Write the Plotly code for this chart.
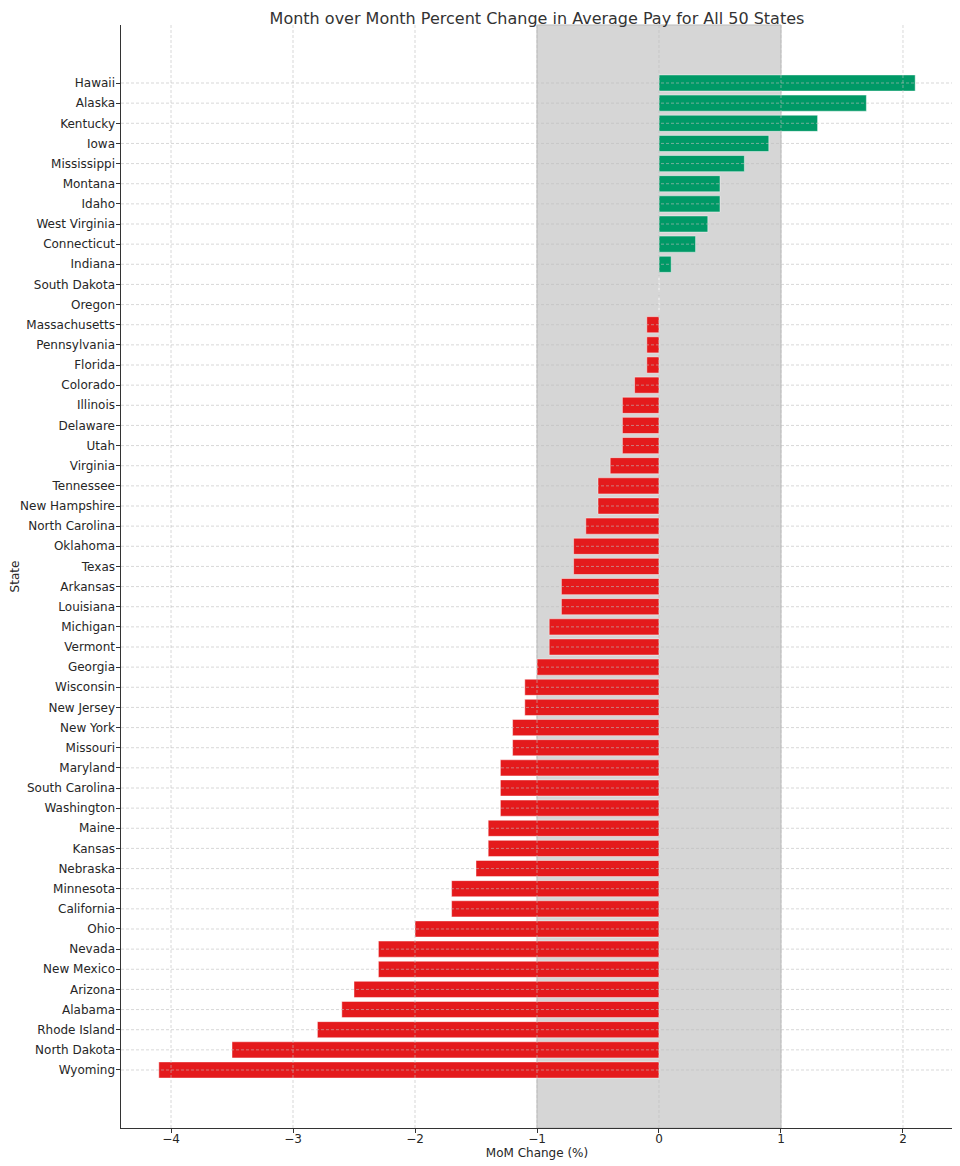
import plotly.graph_objects as go

states = ["Hawaii", "Alaska", "Kentucky", "Iowa", "Mississippi", "Montana", "Idaho",
          "West Virginia", "Connecticut", "Indiana", "South Dakota", "Oregon",
          "Massachusetts", "Pennsylvania", "Florida", "Colorado", "Illinois", "Delaware",
          "Utah", "Virginia", "Tennessee", "New Hampshire", "North Carolina", "Oklahoma",
          "Texas", "Arkansas", "Louisiana", "Michigan", "Vermont", "Georgia", "Wisconsin",
          "New Jersey", "New York", "Missouri", "Maryland", "South Carolina", "Washington",
          "Maine", "Kansas", "Nebraska", "Minnesota", "California", "Ohio", "Nevada",
          "New Mexico", "Arizona", "Alabama", "Rhode Island", "North Dakota", "Wyoming"]
mom_change = [2.1, 1.7, 1.3, 0.9, 0.7, 0.5, 0.5, 0.4, 0.3, 0.1, 0.0, 0.0,
              -0.1, -0.1, -0.1, -0.2, -0.3, -0.3, -0.3, -0.4, -0.5, -0.5, -0.6, -0.7,
              -0.7, -0.8, -0.8, -0.9, -0.9, -1.0, -1.1, -1.1, -1.2, -1.2, -1.3, -1.3,
              -1.3, -1.4, -1.4, -1.5, -1.7, -1.7, -2.0, -2.3, -2.3, -2.5, -2.6, -2.8,
              -3.5, -4.1]
x_ticks = [-4, -3, -2, -1, 0, 1, 2]
x_tick_labels = ["\u22124", "\u22123", "\u22122", "\u22121", "0", "1", "2"]
band = [-1, 1]

GREEN = "#009966"
RED = "#e41a1c"

# bottom-to-top order for plotly categorical axis
ys = states[::-1]
xs = mom_change[::-1]
colors = [GREEN if v > 0 else RED for v in xs]

fig = go.Figure()
fig.add_trace(go.Bar(
    x=xs, y=ys, orientation="h", width=0.8,
    marker=dict(color=colors, line=dict(color="rgba(255,255,255,0.45)", width=1)),
    hoverinfo="x+y", showlegend=False,
))

shapes = [dict(type="rect", xref="x", yref="paper", x0=band[0], x1=band[1], y0=0, y1=1,
               fillcolor="#d6d6d6", line=dict(color="#bbbbbb", width=1), layer="below")]
grid_line = dict(color="rgba(190,190,190,0.75)", width=0.8, dash="3px,2px")
for t in x_ticks:
    shapes.append(dict(type="line", xref="x", yref="paper", x0=t, x1=t, y0=0, y1=1,
                       line=grid_line, layer="above"))
for s in ys:
    shapes.append(dict(type="line", xref="paper", yref="y", x0=0, x1=1, y0=s, y1=s,
                       line=grid_line, layer="above"))

# page body has an 8px margin, so the figure is 8px smaller and margins shifted
W, H = 952, 1158
n = len(ys)
fig.update_layout(
    width=W, height=H,
    margin=dict(l=113, r=7, t=17, b=38, autoexpand=False),
    paper_bgcolor="white", plot_bgcolor="white",
    font=dict(family="DejaVu Sans", size=12, color="#262626"),
    title=dict(text="Month over Month Percent Change in Average Pay for All 50 States",
               xref="paper", x=0.5, xanchor="center", y=1 - 10 / H, yanchor="middle",
               font=dict(size=16, color="#333333")),
    shapes=shapes,
    bargap=0.2,
    xaxis=dict(range=[-4.41, 2.41], tickvals=x_ticks, ticktext=x_tick_labels,
               automargin=False, ticklabelstandoff=-4,
               showgrid=False, zeroline=False, showline=True, linecolor="#333333",
               linewidth=1.2, ticks="outside", ticklen=3.5, tickcolor="#333333",
               title=dict(text="MoM Change (%)", standoff=0, font=dict(size=12))),
    yaxis=dict(type="category", categoryorder="array", categoryarray=ys,
               automargin=False, ticklabelstandoff=-1,
               range=[-2.88, n - 1 + 2.88], showgrid=False, zeroline=False,
               showline=True, linecolor="#333333", linewidth=1.2, ticks="outside",
               ticklen=3.5, tickcolor="#333333",
               title=dict(text="State", standoff=6, font=dict(size=12))),
)

fig.write_html("out.html")
